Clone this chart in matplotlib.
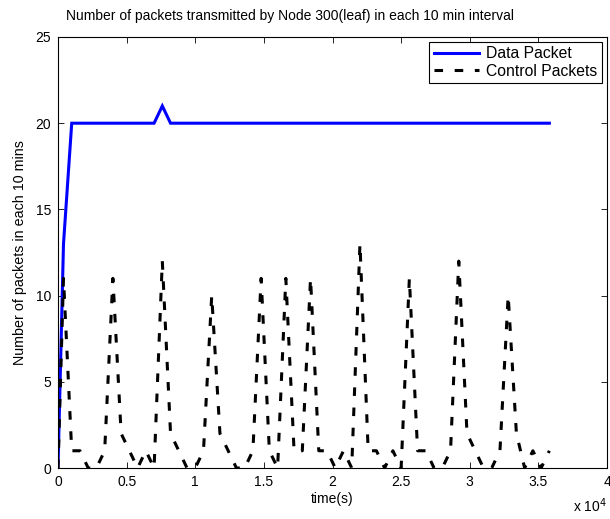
import matplotlib
matplotlib.use("Agg")
import matplotlib.pyplot as plt
import numpy as np

plt.rcParams['font.family'] = ['Liberation Sans', 'DejaVu Sans']

# time stamps (s): start point then every 10 minutes
time_s = [0] + [400 + 600 * k for k in range(60)]

data_packets = [0, 13] + [20] * 11 + [21] + [20] * 47

control_packets = [0,
    11, 1, 1, 0, 0, 1,
    11, 2, 1, 0, 1, 0,
    12, 2, 1, 0, 0, 1,
    10, 2, 1, 0, 0, 1,
    11, 1, 0,
    11, 1, 1,
    11, 1, 1, 0, 1, 0,
    13, 1, 1, 0, 1, 0,
    11, 1, 1, 0, 0, 1,
    12, 2, 1, 0, 0, 1,
    10, 2, 0, 1, 0, 1]

title = "Number of packets transmitted by Node 300(leaf) in each 10 min interval"
xlabel = "time(s)"
ylabel = "Number of packets in each 10 mins"
xticks = [0, 5000, 10000, 15000, 20000, 25000, 30000, 35000, 40000]
xticklabels = ["0", "0.5", "1", "1.5", "2", "2.5", "3", "3.5", "4"]
yticks = [0, 5, 10, 15, 20, 25]

fig = plt.figure(figsize=(6.10, 5.19), dpi=100)
ax = fig.add_axes([58/610, 51/519, 549/610, 431/519])

lw = 2.2
ax.plot(time_s, data_packets, color=(0, 0, 1), lw=lw, label="Data Packet",
        solid_joinstyle='miter')
ax.plot(time_s, control_packets, color='black', lw=lw, label="Control Packets",
        dashes=(2.8, 3.8), dash_capstyle='butt')

ax.set_xlim(0, 40000)
ax.set_ylim(0, 25)
ax.set_xticks(xticks)
ax.set_xticklabels(xticklabels)
ax.set_yticks(yticks)
ax.tick_params(direction='in', top=True, right=True, length=4, width=0.6,
               labelsize=10, pad=5, colors='black')
for s in ax.spines.values():
    s.set_linewidth(0.8)

fig.text(290/610, 1 - 20/519, title, fontsize=10, ha='center', va='baseline')
ax.set_xlabel(xlabel, fontsize=10, labelpad=2)
ax.set_ylabel(ylabel, fontsize=10.3, labelpad=6)
fig.text(573/610, 1 - 512/519, "x 10$^4$", fontsize=10, ha='left', va='baseline')

leg = ax.legend(loc='upper right', fontsize=11.3, fancybox=False, framealpha=1,
                edgecolor='black', handlelength=2.9, borderaxespad=0.3,
                labelspacing=0.15, handletextpad=0.45, borderpad=0.3)
leg.get_frame().set_linewidth(0.8)

fig.savefig("out.png", dpi=100)
